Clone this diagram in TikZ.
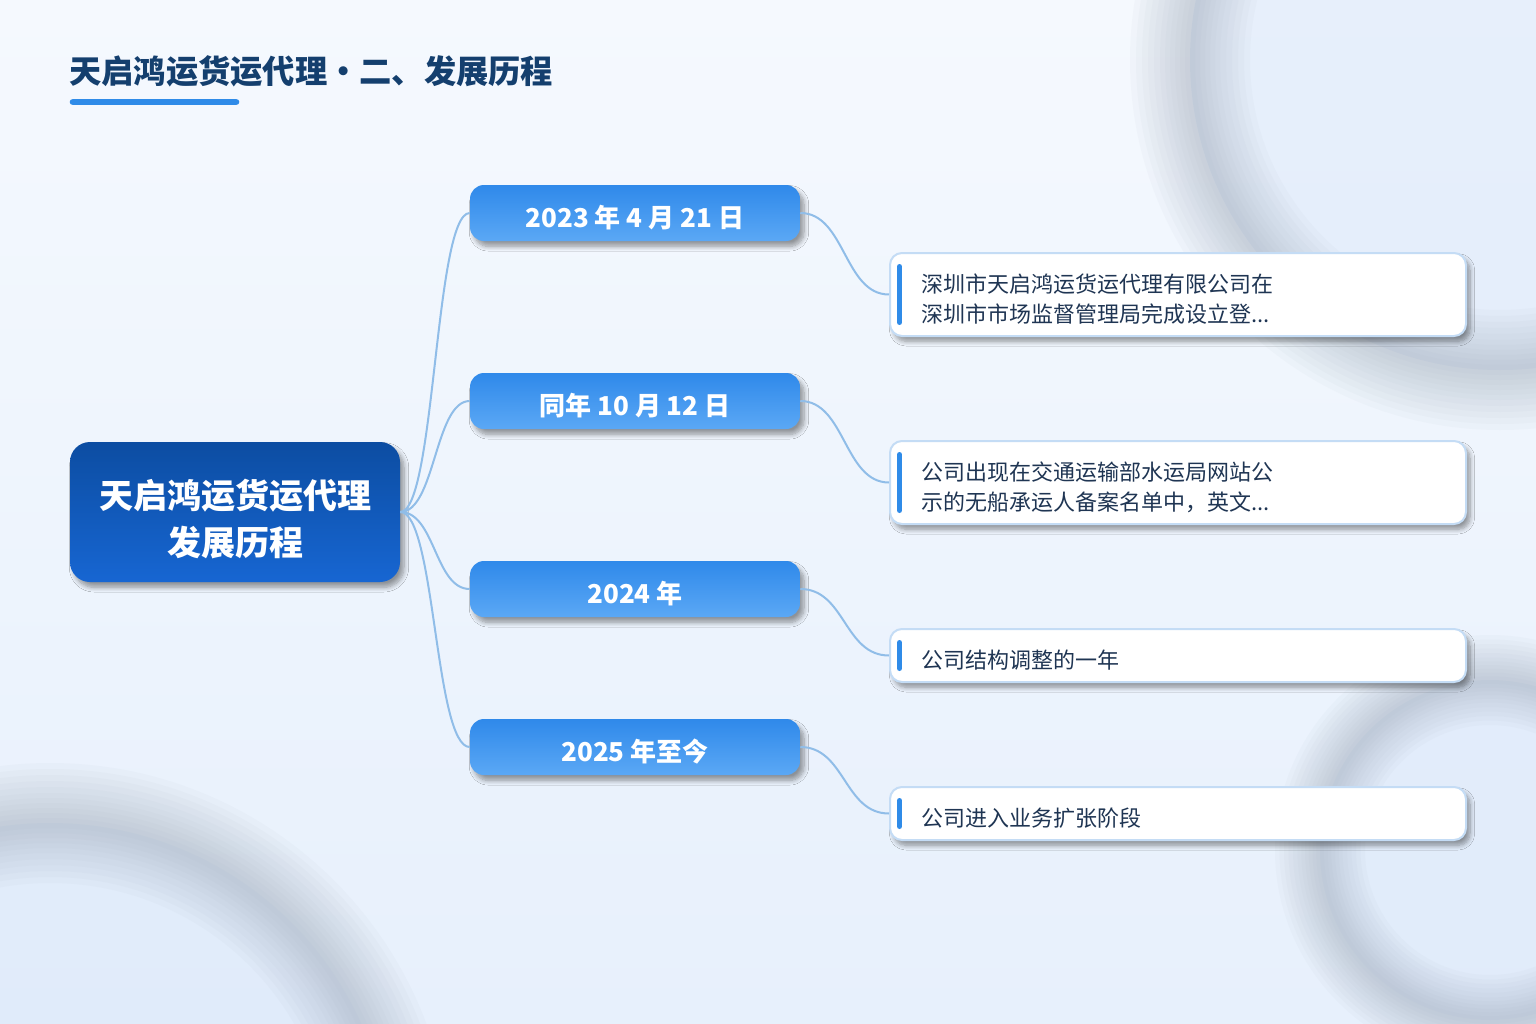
\documentclass[tikz,border=0pt]{standalone}
\usepackage{fontspec}
\setmainfont{Noto Sans CJK SC}
\usetikzlibrary{shadows.blur,calc}
\definecolor{bgtop}{HTML}{F5F9FE}
\definecolor{bgbot}{HTML}{E7F0FC}
\definecolor{ringc}{HTML}{9CA8B8}
\definecolor{ringin}{HTML}{DCE8FA}
\definecolor{titlec}{HTML}{143F6E}
\definecolor{accent}{HTML}{2F8BE8}
\definecolor{roottop}{HTML}{0C4DA2}
\definecolor{rootbot}{HTML}{1766D2}
\definecolor{datetop}{HTML}{2F89EA}
\definecolor{datebot}{HTML}{5BA8F5}
\definecolor{linkc}{HTML}{90BDE8}
\definecolor{detborder}{HTML}{C4DCF5}
\definecolor{dettext}{HTML}{1F3553}
\begin{document}
\begin{tikzpicture}[x=0.75pt,y=-0.75pt,
  softshadow/.style={blur shadow={shadow xshift=3pt, shadow yshift=-4pt, shadow blur radius=3.5pt, shadow blur steps=8, shadow opacity=40}},
  rootbox/.style={rectangle, rounded corners=15pt, minimum width=247.5pt, minimum height=105pt, top color=roottop, bottom color=rootbot, draw=none, softshadow},
  roottxt/.style={text=white, font=\fontsize{25.5pt}{35.25pt}\selectfont\bfseries, align=center, inner sep=0pt},
  datebox/.style={rectangle, rounded corners=10.5pt, minimum width=247.5pt, minimum height=42pt, top color=datetop, bottom color=datebot, draw=none, softshadow},
  datetxt/.style={text=white, font=\fontsize{19.5pt}{22pt}\selectfont\bfseries, inner sep=0pt},
  detbox/.style={rectangle, rounded corners=9pt, minimum width=432pt, fill=white, draw=detborder, line width=1.5pt, softshadow},
  dettxt/.style={anchor=west, text=dettext, font=\fontsize{16.5pt}{22.5pt}\selectfont, align=left, inner sep=0pt},
  accentbar/.style={accent, line width=3.75pt, line cap=round},
  link/.style={linkc, line width=1.5pt},
]
\useasboundingbox (0,0) rectangle (1536,1024);
\clip (0,0) rectangle (1536,1024);
% background
\shade[top color=bgtop, bottom color=bgbot] (0,0) rectangle (1536,1024);
% blurred rings
\foreach \cx/\cy/\r/\s in {1500/60/310/1, 50/1165/342/1, 1490/850/170/0.75} {
  \fill[ringin, opacity=0.55] (\cx,\cy) circle[radius=\r];
  \foreach \w in {120,108,96,84,72,60,50,40,30,20,10}
    \draw[ringc, line width=\s*\w*0.75pt, opacity=0.05] (\cx,\cy) circle[radius=\r];
}
% title
\node[anchor=west, inner sep=0pt, text=titlec, font=\fontsize{24.2pt}{28pt}\selectfont\bfseries] (title) at (69,71) {天启鸿运货运代理・二、发展历程};
\coordinate (ulA) at (73,102);
\coordinate (ulB) at (236,102);
\draw[accent, line width=5pt, line cap=round] (ulA) -- (ulB);
% root
\node[rootbox] (root) at (235,512) {};
\node[roottxt] (rootlabel) at (235,519.5) {天启鸿运货运代理\\发展历程};
% dates
\node[datebox] (d1) at (635,213) {};
\node[datebox] (d2) at (635,401) {};
\node[datebox] (d3) at (635,589) {};
\node[datebox] (d4) at (635,747) {};
\node[datetxt] (d1t) at (635,218) {2023 年 4 月 21 日};
\node[datetxt] (d2t) at (635,406) {同年 10 月 12 日};
\node[datetxt] (d3t) at (635,594) {2024 年};
\node[datetxt] (d4t) at (635,752) {2025 年至今};
% details
\node[detbox, minimum height=62.25pt] (e1) at (1178,294.5) {};
\node[detbox, minimum height=62.25pt] (e2) at (1178,482.5) {};
\node[detbox, minimum height=39.75pt] (e3) at (1178,655.5) {};
\node[detbox, minimum height=39.75pt] (e4) at (1178,813.5) {};
\foreach \e in {e1,e2,e3,e4}
  \draw[accentbar] ($(\e.north west)+(10.5,14.5)$) -- ($(\e.south west)+(10.5,-14.5)$);
\node[dettxt] (e1t) at (921,299) {深圳市天启鸿运货运代理有限公司在\\深圳市市场监督管理局完成设立登...};
\node[dettxt] (e2t) at (921,487) {公司出现在交通运输部水运局网站公\\示的无船承运人备案名单中，英文...};
\node[dettxt] (e3t) at (921,660) {公司结构调整的一年};
\node[dettxt] (e4t) at (921,818) {公司进入业务扩张阶段};
% connectors
\foreach \d in {d1,d2,d3,d4}
  \draw[link] (root.east) .. controls ($(root.east)+(35,0)$) and ($(\d.west)+(-35,0)$) .. (\d.west);
\foreach \d/\e in {d1/e1,d2/e2,d3/e3,d4/e4}
  \draw[link] (\d.east) .. controls ($(\d.east)+(45,0)$) and ($(\e.west)+(-45,0)$) .. (\e.west);
\end{tikzpicture}
\end{document}
